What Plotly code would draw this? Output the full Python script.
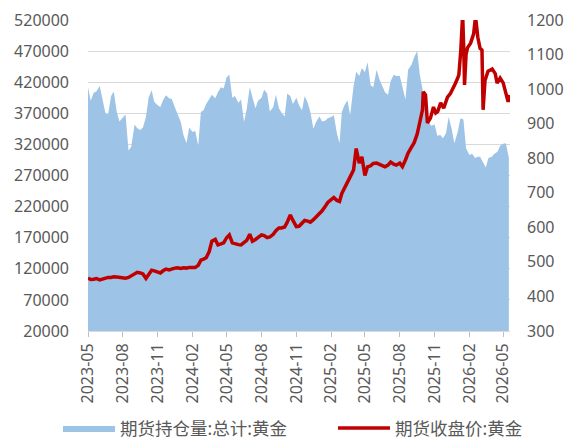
import plotly.graph_objects as go

# ---- data ----
months = ["2023-05","2023-06","2023-07","2023-08","2023-09","2023-10","2023-11","2023-12",
          "2024-01","2024-02","2024-03","2024-04","2024-05","2024-06","2024-07","2024-08",
          "2024-09","2024-10","2024-11","2024-12","2025-01","2025-02","2025-03","2025-04",
          "2025-05","2025-06","2025-07","2025-08","2025-09","2025-10","2025-11","2025-12",
          "2026-01","2026-02","2026-03","2026-04","2026-05"]
days = ["01", "08", "16", "23"]

# open interest (total), thousand lots -> values
oi_k = [412, 390, 403, 405,  414, 393, 370, 368,  398, 405, 372, 357,  363, 368, 310, 316,
        352, 346, 343, 347,  364, 395, 407, 388,  383, 380, 392, 399,  394, 393, 380, 370,
        356, 335, 322, 347,  340, 342, 318, 372,  375, 385, 393, 400,  394, 404, 412, 410,
        428, 432, 395, 398,  387, 392, 356, 377,  412, 395, 378, 390,  395, 408, 402, 373,
        380, 400, 378, 371,  365, 402, 398, 385,  395, 383, 375, 398,  387, 372, 345, 356,
        365, 357, 358, 362,  364, 367, 338, 322,  372, 383, 391, 367,  413, 437, 430, 443,
        436, 452, 415, 412,  440, 425, 413, 404,  400, 422, 432, 430,  430, 412, 392, 440,
        448, 460, 470, 432,  405, 378, 356, 350,  352, 334, 335, 330,  338, 364, 345, 322,
        340, 362, 360, 314,  303, 305, 298, 300,  300, 292, 283, 298,  300, 305, 308, 318,
        321, 322, 298]
oi_dates = [f"{m}-{d}" for m in months for d in days][:len(oi_k)]
oi_values = [v * 1000 for v in oi_k]

# gold close price
price_grid = [453, 449, 450, 452,  448, 451, 452, 455,  455, 457, 456, 455,  454, 453, 455, 460,
              466, 470, 468, 465,  452, 465, 476, 474,  470, 468, 475, 479,  477, 480, 482, 483,
              481, 483, 482, 484,  483, 484, 490, 505,  508, 512, 530, 560,  565, 549, 552, 555,
              570, 578, 555, 552,  550, 549, 556, 562,  580, 560, 565, 572,  578, 576, 570, 572,
              580, 590, 598, 598,  601, 615, 636, 620,  602, 603, 614, 620,  618, 615, 622, 630,
              638, 648, 660, 672,  680, 686, 678, 675,  698, 712, 728, 746,  766, 828, 786, 804,
              750, 775, 778, 785,  786, 782, 778, 775,  780, 789, 783, 780,  786, 776, 795, 815,
              832, 845, 870, 905]
price_tail_dates = ["2025-09-30","2025-10-02","2025-10-08","2025-10-13","2025-10-21","2025-10-29",
                    "2025-11-04","2025-11-09","2025-11-17","2025-11-25","2025-12-05","2025-12-13",
                    "2025-12-21","2025-12-26","2026-01-01","2026-01-04","2026-01-09","2026-01-12",
                    "2026-01-14","2026-01-17","2026-01-19","2026-01-23","2026-01-27","2026-02-04",
                    "2026-02-12","2026-02-17","2026-02-23","2026-03-01","2026-03-06","2026-03-09",
                    "2026-03-14","2026-03-22","2026-04-02","2026-04-10","2026-04-15","2026-04-23",
                    "2026-05-01","2026-05-06","2026-05-11","2026-05-14","2026-05-18"]
price_tail = [940, 992, 983, 902, 916, 948, 931, 935, 960, 945, 977, 988, 1003, 1017, 1032, 1041,
              1110, 1180, 1215, 1115, 1012, 1100, 1120, 1133, 1160, 1210, 1150, 1118, 1113, 940,
              1025, 1052, 1058, 1045, 1017, 1032, 1018, 997, 974, 963, 983]
price_dates = [f"{m}-{d}" for m in months for d in days][:len(price_grid)] + price_tail_dates
price_values = price_grid + price_tail

tick_labels = ["2023-05","2023-08","2023-11","2024-02","2024-05","2024-08","2024-11",
               "2025-02","2025-05","2025-08","2025-11","2026-02","2026-05"]

series_names = ["期货持仓量:总计:黄金", "期货收盘价:黄金"]

# ---- figure ----
FONT = "Noto Sans, Noto Sans CJK SC, sans-serif"
fig = go.Figure()
fig.add_trace(go.Scatter(x=oi_dates, y=oi_values, name=series_names[0], mode="lines",
                         line=dict(width=0, color="#9DC3E6"), fill="tozeroy",
                         fillcolor="#9DC3E6", yaxis="y", legend="legend"))
fig.add_trace(go.Scatter(x=price_dates, y=price_values, name=series_names[1], mode="lines",
                         line=dict(width=3.5, color="#C00000"), yaxis="y2", legend="legend2"))

leg_common = dict(orientation="h", xanchor="left", xref="container",
                  y=0.025, yref="container", yanchor="middle",
                  font=dict(size=17.5, color="#595959"), itemwidth=52,
                  bgcolor="rgba(0,0,0,0)")

fig.update_layout(
    width=566, height=439,
    margin=dict(l=88, r=56, t=20, b=108, autoexpand=False),
    paper_bgcolor="white", plot_bgcolor="white",
    font=dict(family=FONT, size=16, color="#595959"),
    showlegend=True,
    legend=dict(x=58 / 566, **leg_common),
    legend2=dict(x=333 / 566, **leg_common),
    xaxis=dict(type="date", range=["2023-05-01", "2026-05-19"], automargin=False,
               tickvals=[t + "-01" for t in tick_labels], ticktext=tick_labels,
               tickangle=-90, ticks="outside", ticklen=5, tickcolor="#BFBFBF",
               showline=True, linecolor="#D9D9D9", linewidth=1, showgrid=False,
               tickfont=dict(size=16)),
    yaxis=dict(range=[20000, 520000], tick0=20000, dtick=50000, showgrid=True,
               gridcolor="#D9D9D9", gridwidth=1, zeroline=False, showline=False,
               ticklabelstandoff=18, tickformat="d", automargin=False),
    yaxis2=dict(range=[300, 1200], dtick=100, overlaying="y", side="right",
                showgrid=False, zeroline=False, showline=False, ticklabelstandoff=16,
                automargin=False),
)

fig.write_html("out.html", config={"displayModeBar": False},
               post_script="document.body.style.margin='0';document.body.style.padding='0';")
